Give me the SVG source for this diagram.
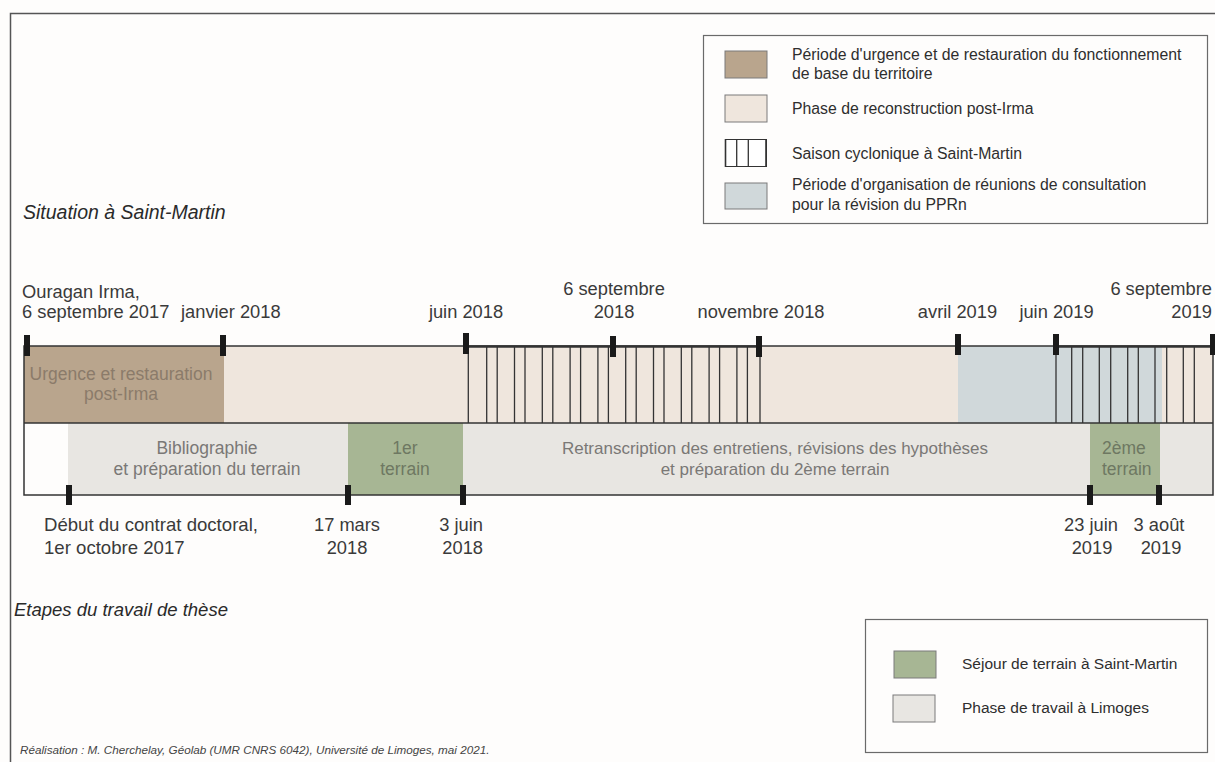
<svg xmlns="http://www.w3.org/2000/svg" width="1215" height="762" viewBox="0 0 1215 762">
<style>
text{font-family:"Liberation Sans",Arial,sans-serif;}
.lab{font-size:18.3px;fill:#3a3a3a;}
.mid{font-size:17.5px;fill:#7a7876;}
.leg{font-size:15.5px;fill:#2e2e2e;}
.legt{font-size:15.8px;}
.ttl{font-size:19.5px;font-style:italic;fill:#2a2a2a;}
.cred{font-size:11.7px;font-style:italic;fill:#444;}
.sw{stroke:#7a7a7a;stroke-width:1;}
.box{fill:none;stroke:#6a6a6a;stroke-width:1.2;}
.hatch line{stroke:#333;stroke-width:1.3;}
.tick{fill:#1a1a1a;}
.brown{fill:#b9a58d;}
.beige{fill:#efe6dd;}
.blue{fill:#d0d8da;}
.grey{fill:#e8e6e2;}
.green{fill:#a7b694;}
</style>
<rect x="0" y="0" width="1215" height="762" fill="#fefdfc"/>
<path d="M10.5 770 V13.5 H1220" fill="none" stroke="#555" stroke-width="1.5"/>

<g id="legend-top">
  <rect class="box" x="703.5" y="35.5" width="504" height="188"/>
  <rect class="sw brown" x="725" y="51" width="42" height="27"/>
  <text class="leg legt" x="792" y="59.5">Période d'urgence et de restauration du fonctionnement</text>
  <text class="leg legt" x="792" y="79">de base du territoire</text>
  <rect class="sw beige" x="725" y="95" width="42" height="27"/>
  <text class="leg legt" x="792" y="113.5">Phase de reconstruction post-Irma</text>
  <rect x="725.5" y="139.5" width="41" height="27" fill="#fff" stroke="#333" stroke-width="1"/>
  <line x1="725.5" y1="139" x2="725.5" y2="167" stroke="#333" stroke-width="1.6"/>
  <line x1="736.7" y1="139" x2="736.7" y2="167" stroke="#333" stroke-width="1.3"/>
  <line x1="748.3" y1="139" x2="748.3" y2="167" stroke="#333" stroke-width="1.3"/>
  <line x1="766" y1="139" x2="766" y2="167" stroke="#333" stroke-width="1.6"/>
  <text class="leg legt" x="792" y="158.5">Saison cyclonique à Saint-Martin</text>
  <rect class="sw blue" x="725" y="183" width="42" height="26"/>
  <text class="leg legt" x="792" y="189.5">Période d'organisation de réunions de consultation</text>
  <text class="leg legt" x="792" y="210">pour la révision du PPRn</text>
</g>

<text id="title-situation" class="ttl" x="23" y="219">Situation à Saint-Martin</text>

<g id="top-labels" class="lab">
  <text x="22" y="298">Ouragan Irma,</text>
  <text x="22" y="318">6 septembre 2017</text>
  <text x="181" y="318">janvier 2018</text>
  <text x="466" y="318" text-anchor="middle">juin 2018</text>
  <text x="614" y="295" text-anchor="middle">6 septembre</text>
  <text x="614" y="318" text-anchor="middle">2018</text>
  <text x="761" y="318" text-anchor="middle">novembre 2018</text>
  <text x="957.5" y="318" text-anchor="middle">avril 2019</text>
  <text x="1056.5" y="318" text-anchor="middle">juin 2019</text>
  <text x="1212" y="295" text-anchor="end">6 septembre</text>
  <text x="1212" y="318" text-anchor="end">2019</text>
</g>

<g id="row-situation">
  <rect class="brown" x="24" y="346" width="200" height="77"/>
  <rect class="beige" x="224" y="346" width="734" height="77"/>
  <rect class="blue" x="958" y="346" width="204" height="77"/>
  <rect class="beige" x="1162" y="346" width="51" height="77"/>
  <text class="mid" x="121" y="380" text-anchor="middle" style="fill:#8b7b6a">Urgence et restauration</text>
  <text class="mid" x="121" y="400" text-anchor="middle" style="fill:#8b7b6a">post-Irma</text>
</g>

<g id="cyclone-2018" class="hatch">
  <line x1="468.3" y1="346" x2="468.3" y2="423"/>
  <line x1="486.7" y1="346" x2="486.7" y2="423"/>
  <line x1="497.2" y1="346" x2="497.2" y2="423"/>
  <line x1="514.5" y1="346" x2="514.5" y2="423"/>
  <line x1="525" y1="346" x2="525" y2="423"/>
  <line x1="542.3" y1="346" x2="542.3" y2="423"/>
  <line x1="552.8" y1="346" x2="552.8" y2="423"/>
  <line x1="570.1" y1="346" x2="570.1" y2="423"/>
  <line x1="580.6" y1="346" x2="580.6" y2="423"/>
  <line x1="597.9" y1="346" x2="597.9" y2="423"/>
  <line x1="608.4" y1="346" x2="608.4" y2="423"/>
  <line x1="625.7" y1="346" x2="625.7" y2="423"/>
  <line x1="636.2" y1="346" x2="636.2" y2="423"/>
  <line x1="653.5" y1="346" x2="653.5" y2="423"/>
  <line x1="664" y1="346" x2="664" y2="423"/>
  <line x1="681.3" y1="346" x2="681.3" y2="423"/>
  <line x1="691.8" y1="346" x2="691.8" y2="423"/>
  <line x1="709.1" y1="346" x2="709.1" y2="423"/>
  <line x1="719.6" y1="346" x2="719.6" y2="423"/>
  <line x1="736.9" y1="346" x2="736.9" y2="423"/>
  <line x1="747.4" y1="346" x2="747.4" y2="423"/>
  <line x1="760" y1="346" x2="760" y2="423"/>
  <line x1="466" y1="346.5" x2="760" y2="346.5" style="stroke-width:2.6"/>
</g>

<g id="cyclone-2019" class="hatch">
  <line x1="1056" y1="346" x2="1056" y2="423"/>
  <line x1="1071.7" y1="346" x2="1071.7" y2="423"/>
  <line x1="1082.7" y1="346" x2="1082.7" y2="423"/>
  <line x1="1099.3" y1="346" x2="1099.3" y2="423"/>
  <line x1="1110.7" y1="346" x2="1110.7" y2="423"/>
  <line x1="1127.7" y1="346" x2="1127.7" y2="423"/>
  <line x1="1138.3" y1="346" x2="1138.3" y2="423"/>
  <line x1="1155" y1="346" x2="1155" y2="423"/>
  <line x1="1166.7" y1="346" x2="1166.7" y2="423"/>
  <line x1="1183.3" y1="346" x2="1183.3" y2="423"/>
  <line x1="1194.3" y1="346" x2="1194.3" y2="423"/>
  <line x1="1056" y1="346.5" x2="1213" y2="346.5" style="stroke-width:2.6"/>
</g>

<g id="row-thesis">
  <rect x="24" y="423" width="44" height="72" fill="#fefdfc"/>
  <rect class="grey" x="68" y="423" width="280" height="72"/>
  <rect class="green" x="348" y="423" width="115" height="72"/>
  <rect class="grey" x="463" y="423" width="627" height="72"/>
  <rect class="green" x="1090" y="423" width="70" height="72"/>
  <rect class="grey" x="1160" y="423" width="53" height="72"/>
  <text class="mid" x="207" y="454" text-anchor="middle">Bibliographie</text>
  <text class="mid" x="207" y="475" text-anchor="middle">et préparation du terrain</text>
  <text class="mid" x="405" y="454" text-anchor="middle" style="fill:#6e7862">1er</text>
  <text class="mid" x="405" y="475" text-anchor="middle" style="fill:#6e7862">terrain</text>
  <text class="mid" x="775" y="454" text-anchor="middle" style="font-size:17px">Retranscription des entretiens, révisions des hypothèses</text>
  <text class="mid" x="775" y="475" text-anchor="middle" style="font-size:17px">et préparation du 2ème terrain</text>
  <text class="mid" x="1102" y="454" style="fill:#6e7862">2ème</text>
  <text class="mid" x="1102" y="475" style="fill:#6e7862">terrain</text>
</g>

<g id="timeline-frame" fill="none" stroke="#333" stroke-width="1.5">
  <rect x="24" y="346" width="1189" height="149"/>
  <line x1="24" y1="423" x2="1213" y2="423"/>
</g>

<g id="ticks">
  <rect class="tick" x="24" y="335" width="6" height="21"/>
  <rect class="tick" x="220" y="335" width="6" height="21"/>
  <rect class="tick" x="463" y="333" width="6" height="21"/>
  <rect class="tick" x="610" y="336" width="6" height="21"/>
  <rect class="tick" x="756" y="336" width="6" height="21"/>
  <rect class="tick" x="955" y="334" width="6" height="21"/>
  <rect class="tick" x="1053" y="334" width="6" height="21"/>
  <rect class="tick" x="1210" y="334" width="6" height="21"/>
  <rect class="tick" x="66" y="485" width="6" height="20"/>
  <rect class="tick" x="345" y="485" width="6" height="20"/>
  <rect class="tick" x="460" y="485" width="6" height="20"/>
  <rect class="tick" x="1087" y="485" width="6" height="20"/>
  <rect class="tick" x="1156" y="485" width="6" height="20"/>
</g>

<g id="bottom-labels" class="lab">
  <text x="44" y="531" style="font-size:18.6px">Début du contrat doctoral,</text>
  <text x="44" y="554" style="font-size:18.6px">1er octobre 2017</text>
  <text x="347" y="531" text-anchor="middle">17 mars</text>
  <text x="347" y="554" text-anchor="middle">2018</text>
  <text x="483" y="531" text-anchor="end">3 juin</text>
  <text x="483" y="554" text-anchor="end">2018</text>
  <text x="1091" y="531" text-anchor="middle">23 juin</text>
  <text x="1092" y="554" text-anchor="middle">2019</text>
  <text x="1159" y="531" text-anchor="middle">3 août</text>
  <text x="1161" y="554" text-anchor="middle">2019</text>
</g>

<text id="title-thesis" class="ttl" x="14" y="616" style="font-size:18.5px">Etapes du travail de thèse</text>

<g id="legend-bottom">
  <rect class="box" x="865.5" y="619.5" width="342" height="133"/>
  <rect class="sw green" x="894" y="651" width="42" height="27"/>
  <text class="leg" x="962" y="669">Séjour de terrain à Saint-Martin</text>
  <rect class="sw grey" x="893" y="695" width="42" height="27"/>
  <text class="leg" x="962" y="713">Phase de travail à Limoges</text>
</g>

<text id="credit" class="cred" x="20" y="754">Réalisation : M. Cherchelay, Géolab (UMR CNRS 6042), Université de Limoges, mai 2021.</text>
</svg>
